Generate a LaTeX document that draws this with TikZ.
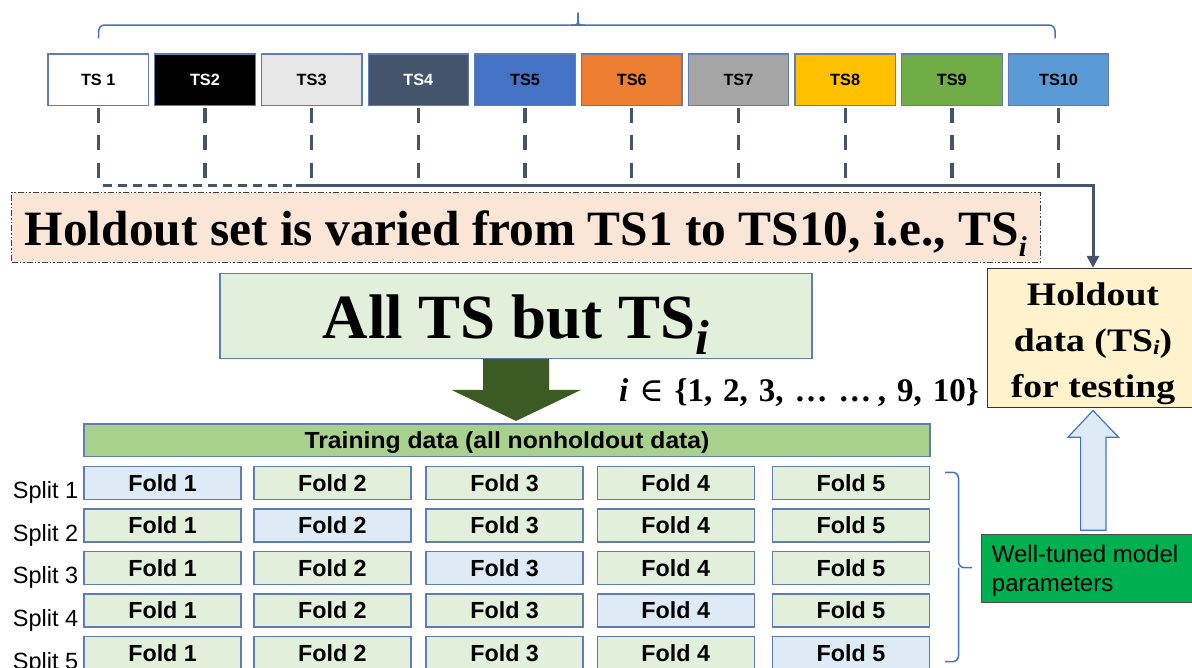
\documentclass[tikz,border=0pt]{standalone}
\usepackage{fontspec}
\setmainfont{Liberation Serif}
\setsansfont{Liberation Sans}
\newfontfamily\wideserif[FakeStretch=1.15]{Liberation Serif}
\newfontfamily\widesans[FakeStretch=1.06]{Liberation Sans}
\newfontfamily\symserif{DejaVu Serif}
\usetikzlibrary{arrows.meta,calc}

% italic index i: scale factor, drop below the baseline
\newcommand\subidx[2]{\raisebox{-#2}{\scalebox{#1}{\itshape i}}}
\newcommand\gap{\hspace{0.33em}}

\definecolor{slate}{HTML}{44546A}
\definecolor{edgeblue}{HTML}{4472C4}
\definecolor{boxline}{RGB}{95,125,180}
\definecolor{foldgreen}{HTML}{E2EFDA}
\definecolor{foldblue}{HTML}{DEEBF7}
\definecolor{peach}{HTML}{FBE5D6}
\definecolor{cream}{HTML}{FFF2CC}
\definecolor{bargreen}{HTML}{A9D18E}
\definecolor{darkolive}{RGB}{60,90,35}
\definecolor{vivid}{HTML}{00B050}
\definecolor{tsgray}{HTML}{E7E6E6}
\definecolor{tsslate}{HTML}{44546A}
\definecolor{tsblue}{HTML}{4472C4}
\definecolor{tsorange}{HTML}{ED7D31}
\definecolor{tsmid}{HTML}{A5A5A5}
\definecolor{tsgold}{HTML}{FFC000}
\definecolor{tsgreen}{HTML}{70AD47}
\definecolor{tssky}{HTML}{5B9BD5}

\tikzset{
  tsbox/.style={draw=boxline, line width=1.2pt, minimum width=100.5pt, minimum height=51.7pt,
    inner sep=0pt, font=\sffamily\bfseries\fontsize{16.3}{18}\selectfont},
  drop/.style={draw=slate, line width=3.3pt, dash pattern=on 15pt off 12.5pt},
  bus/.style={draw=slate, line width=3pt},
  varybox/.style={draw=black!75, fill=peach, line width=1pt,
    dash pattern=on 6pt off 2pt on 1.5pt off 2pt on 1.5pt off 2pt,
    minimum width=1028.5pt, minimum height=70pt, inner sep=0pt,
    text height=35.4pt, text depth=0pt,
    font=\bfseries\fontsize{49.4}{55}\selectfont},
  allbox/.style={draw=boxline, fill=foldgreen, line width=1.2pt,
    minimum width=592pt, minimum height=85pt, inner sep=0pt,
    text height=45pt, text depth=0pt,
    font=\bfseries\fontsize{63}{70}\selectfont},
  barbox/.style={draw=boxline, fill=bargreen, line width=1.5pt,
    minimum width=846pt, minimum height=32.7pt, inner sep=0pt,
    text height=16.7pt, text depth=0pt,
    font=\widesans\bfseries\fontsize{23.3}{26}\selectfont},
  foldbox/.style={draw=boxline, line width=1.5pt, minimum width=157pt, minimum height=32.7pt,
    inner sep=0pt, font=\sffamily\bfseries\fontsize{23.3}{26}\selectfont},
  splitlbl/.style={inner sep=0pt, font=\sffamily\fontsize{23.5}{26}\selectfont},
  holdbox/.style={draw=black!80, fill=cream, line width=1pt,
    minimum width=211.4pt, minimum height=139pt, inner sep=0pt},
  tunedbox/.style={draw=black!70, fill=vivid, line width=1pt,
    minimum width=224pt, minimum height=68.7pt, inner sep=0pt},
  brace/.style={draw=edgeblue, line width=1.5pt, rounded corners=6pt},
}

\begin{document}
\begin{tikzpicture}[x=1pt,y=-1pt]
\useasboundingbox (0,0) rectangle (1192,667);
\clip (0,0) rectangle (1192,667);
\fill[white] (0,0) rectangle (1192,667);

% brace over the ten test sets
\draw[brace] (98.7,38.3) -- (98.7,25) -- (578,25) -- (1055,25) -- (1055,38.3);
\draw[brace, rounded corners=3pt] (571,25) -- (578,25) -- (578,12.7);
\draw[brace, rounded corners=3pt] (585,25) -- (578,25) -- (578,12.7);

% the ten test sets
\foreach \k/\fc/\tc/\lab in {1/white/black/TS 1, 2/black/white/TS2, 3/tsgray/black/TS3,
    4/tsslate/white/TS4, 5/tsblue/black/TS5, 6/tsorange/black/TS6, 7/tsmid/black/TS7,
    8/tsgold/black/TS8, 9/tsgreen/black/TS9, 10/tssky/black/TS10}
  \node[tsbox, fill=\fc, text=\tc] (ts\k) at ({98.25+106.7*(\k-1)}, 79.9) {\lab};

% drops from each test set to the collecting line
\coordinate (dropend) at (0,180);
\foreach \k in {1,...,10}
  \draw[drop] ([yshift=-1.3pt]ts\k.south) -- (ts\k.south |- dropend);

% holdout selection box
\node[varybox] (vary) at (525.75,227.3)
  {Holdout set is varied from TS1 to TS10, i.e., TS\subidx{0.58}{0.24em}};

% holdout data box
\node[holdbox] (hold) at (1093,337.8) {};
\node[anchor=north, align=center, inner sep=0pt,
      font=\wideserif\bfseries\fontsize{32.8}{45.8}\selectfont] (holdtxt) at (1093,282.7)
  {Holdout\\data (TS\subidx{0.62}{0.1em})\\for testing};

% collecting line into the holdout box
\coordinate (busL) at (103,185.7);
\coordinate (busM) at (296,185.7);
\coordinate (busR) at (1093,185.7);
\draw[bus, dash pattern=on 9pt off 6pt] (busL) -- (busM);
\draw[bus, -{Triangle[length=12pt,width=12pt]}] (busM) -- (busR) -- (hold.north);

% training set box
\node[allbox] (allts) at (516,315.8) {All TS but TS\subidx{0.78}{0.26em}};

% range of the index
\node[anchor=base west, inner sep=0pt, font=\bfseries\fontsize{33}{36}\selectfont]
  (irange) at (619,401.7)
  {{\itshape i}\gap{\symserif\mdseries ∈}\gap\{1,\gap2,\gap3,\gap…\gap…\hspace{0.2em},\gap9,\gap10\}};

% training data bar
\node[barbox] (train) at (507,440.35) {Training data (all nonholdout data)};

% big arrow down to the training bar
\coordinate (ga) at (allts.south);
\coordinate (gt) at ($(allts.south |- train.north)+(0,-2.3)$);
\fill[darkolive] ($(ga)+(-33,0)$) -- ($(ga)+(33,0)$) -- ($(ga)+(33,31)$) -- ($(ga)+(65,31)$)
  -- (gt) -- ($(ga)+(-64.5,31)$) -- ($(ga)+(-33,31)$) -- cycle;

% five-fold cross-validation grid
\foreach \r in {1,...,5} {
  \node[splitlbl, anchor=base east] (s\r) at (78.5,{498.3+42.7*(\r-1)}) {Split \r};
  \foreach \c/\cx in {1/162.6, 2/332.35, 3/504.6, 4/675.75, 5/851} {
    \ifnum\r=\c \def\fc{foldblue}\else \def\fc{foldgreen}\fi
    \node[foldbox, fill=\fc] (f\r-\c) at (\cx,{483+42.5*(\r-1)}) {Fold \c};
  }
}

% brace gathering the splits
\draw[brace] (945,472.3) -- (958.5,472.3) -- (958.5,567.7) -- (972,567.7);
\draw[brace] (945,661.7) -- (958.5,661.7) -- (958.5,567.7);

% tuned parameters box
\node[tunedbox] (tuned) at (1093,568.35) {};
\node[anchor=north west, align=left, inner sep=0pt,
      font=\sffamily\fontsize{24}{29}\selectfont] (tunedtxt) at (991.7,545.2)
  {Well-tuned model\\parameters};

% hollow arrow up to the holdout box
\coordinate (ua) at ($(hold.south)+(0,2.7)$);
\coordinate (ub) at ($(tuned.north)+(0,-3.3)$);
\filldraw[fill=foldblue, draw=edgeblue, line width=1.2pt]
  (ua) -- ($(ua)+(25.5,26.7)$) -- ($(ua)+(13,26.7)$) -- ($(ub)+(13,0)$)
  -- ($(ub)+(-12.4,0)$) -- ($(ua)+(-12.4,26.7)$) -- ($(ua)+(-25,26.7)$) -- cycle;
\end{tikzpicture}
\end{document}
